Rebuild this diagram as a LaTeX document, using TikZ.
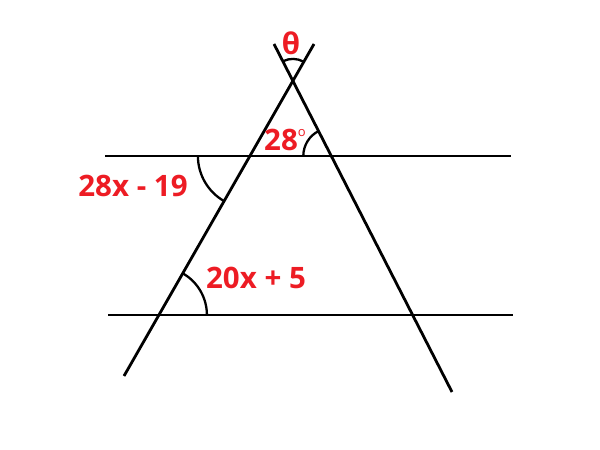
\documentclass[tikz,border=0pt]{standalone}
\usepackage{fontspec}
\setmainfont{Open Sans}
\definecolor{anglered}{RGB}{237,28,36}

\begin{document}
\begin{tikzpicture}[x=1pt, y=1pt, line width=2.8pt,
    ang/.style={line width=2.3pt},
    lbl/.style={text=anglered, font=\fontsize{29.5}{31}\selectfont\bfseries, inner sep=0pt}]
    \useasboundingbox (0,0) rectangle (600,450);
    % transversals
    \coordinate (lb) at (124,74);  \coordinate (lt) at (314,406);
    \coordinate (rt) at (274,406); \coordinate (rb) at (452,58);
    % parallels
    \coordinate (ul) at (105,294); \coordinate (ur) at (511,294);
    \coordinate (dl) at (108,135); \coordinate (dr) at (513,135);
    \draw (lb) -- (lt);
    \draw (rt) -- (rb);
    \draw (ul) -- (ur);
    \draw (dl) -- (dr);
    \coordinate (apex) at (intersection of lb--lt and rt--rb);
    \coordinate (upL) at (intersection of lb--lt and ul--ur);
    \coordinate (upR) at (intersection of rt--rb and ul--ur);
    \coordinate (dnL) at (intersection of lb--lt and dl--dr);
    % angle marks
    \draw[ang] ([shift={(60.4:22)}]apex) arc[start angle=60.4, end angle=117.2, radius=22];
    \draw[ang] ([shift={(116.9:28)}]upR) arc[start angle=116.9, end angle=180, radius=28];
    \draw[ang] ([shift={(180:52)}]upL) arc[start angle=180, end angle=240.2, radius=52];
    \draw[ang] ([shift={(0:48)}]dnL) arc[start angle=0, end angle=60.2, radius=48];
    % labels
    \node[lbl] (theta) at (291,407) {θ};
    \node[lbl] (top) at (285,310) {28\raisebox{0.5em}{\fontsize{13}{13}\selectfont\mdseries o}};
    \node[lbl] (alt) at (133,264) {28x - 19};
    \node[lbl] (cor) at (256,172) {20x + 5};
\end{tikzpicture}
\end{document}
